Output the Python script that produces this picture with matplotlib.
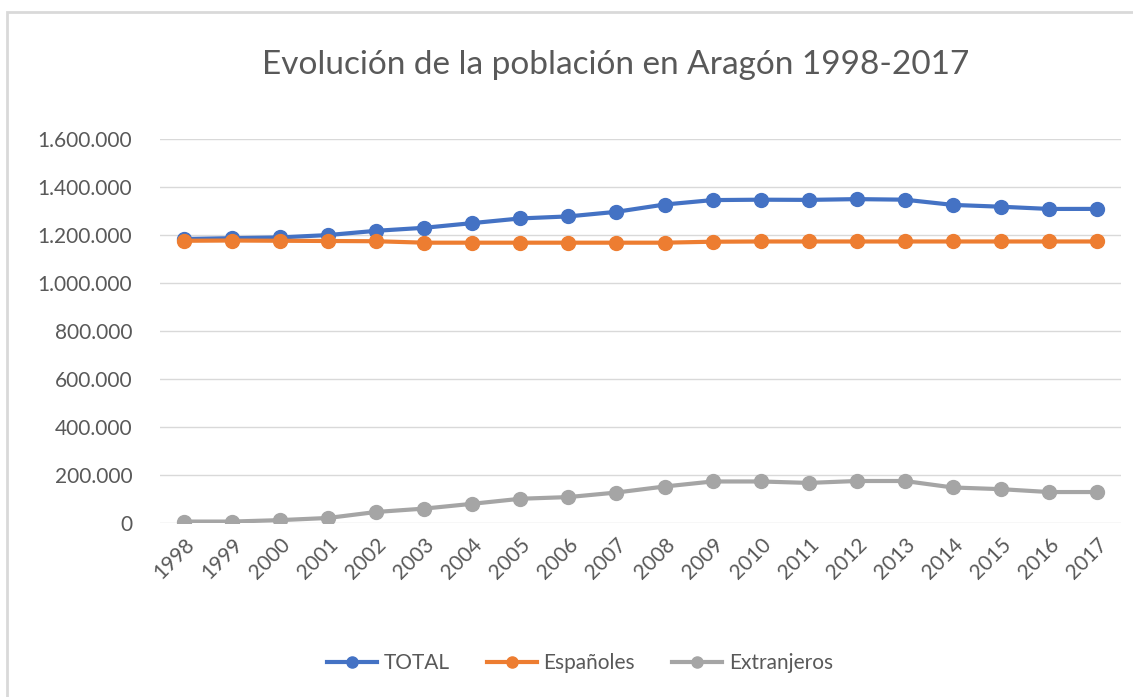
import matplotlib.pyplot as plt
from matplotlib.ticker import FuncFormatter, MultipleLocator
from matplotlib.patches import Rectangle

# ------------------ Data ------------------
years = [str(y) for y in range(1998, 2018)]
total = [1183234, 1186849, 1189909, 1199753, 1217514, 1230090, 1249584, 1269027,
         1277471, 1296655, 1326918, 1345473, 1347095, 1346293, 1349467, 1347150,
         1325385, 1317847, 1308563, 1308750]
espanoles = [1176000, 1177000, 1176000, 1175000, 1174000, 1168000, 1168000, 1168000,
             1168000, 1168000, 1168000, 1172000, 1173000, 1173000, 1173000, 1173000,
             1173000, 1173000, 1173000, 1173000]
extranjeros = [6000, 6000, 12000, 21000, 46000, 60000, 80000, 101000,
               108000, 127000, 152000, 173000, 173000, 167000, 175000, 175000,
               148000, 141000, 129000, 129000]

TEXT = "#595959"
plt.rcParams["font.family"] = ["Lato", "DejaVu Sans"]

fig = plt.figure(figsize=(11.33, 6.97), dpi=100)
# chart frame (right and bottom edges fall outside the image)
fig.patches.append(Rectangle((7 / 1133, -0.1), 1.2, 1.1 - 12 / 697, transform=fig.transFigure,
                             fill=False, edgecolor="#D9D9D9", linewidth=2))

ax = fig.add_axes([160 / 1133, 1 - 523 / 697, (1121 - 160) / 1133, (523 - 139) / 697])
x = range(len(years))
ax.plot(x, total, "-o", color="#4472C4", lw=3, ms=10, label="TOTAL", zorder=3)
ax.plot(x, espanoles, "-o", color="#ED7D31", lw=3, ms=10, label="Españoles", zorder=4)
ax.plot(x, extranjeros, "-o", color="#A5A5A5", lw=3, ms=10, label="Extranjeros", zorder=3)

ax.set_xlim(-0.5, len(years) - 0.5)
ax.set_ylim(0, 1600000)
ax.yaxis.set_major_locator(MultipleLocator(200000))
ax.yaxis.set_major_formatter(FuncFormatter(lambda v, p: f"{int(v):,}".replace(",", ".")))
ax.grid(axis="y", color="#D9D9D9", lw=1)
ax.set_axisbelow(True)
for s in ax.spines.values():
    s.set_visible(False)
ax.tick_params(axis="both", length=0, colors=TEXT, labelsize=15)
ax.tick_params(axis="y", pad=20)
ax.set_xticks(list(x))
ax.set_xticklabels(years, rotation=45, ha="right", rotation_mode="anchor", fontsize=15)
ax.tick_params(axis="x", pad=8)

fig.text(616 / 1133, 1 - 65 / 697, "Evolución de la población en Aragón 1998-2017",
         ha="center", va="center", fontsize=24, color=TEXT)

fig.legend(loc="center", bbox_to_anchor=(580 / 1133, 1 - 663 / 697), ncol=3, frameon=False,
           fontsize=15, labelcolor=TEXT, handlelength=2.4, columnspacing=1.8, handletextpad=0.3,
           markerscale=0.8)

fig.savefig("out.png", dpi=100)
